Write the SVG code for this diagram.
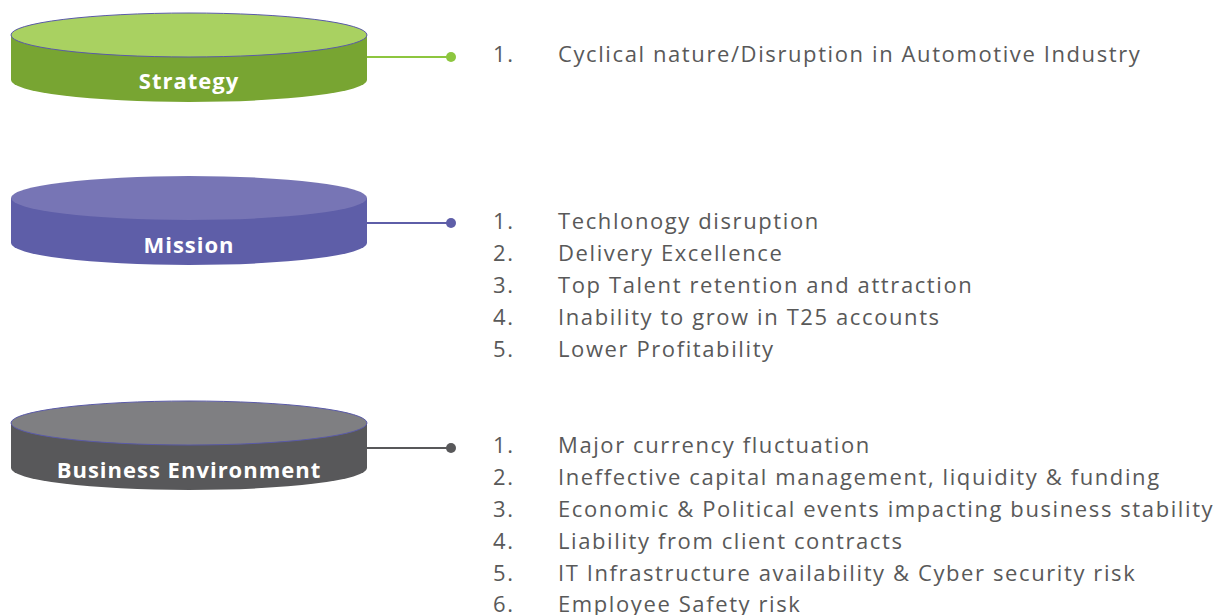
<svg xmlns="http://www.w3.org/2000/svg" width="1222" height="615" viewBox="0 0 1222 615">
<style>
.lbl{font-family:"Open Sans","Noto Sans",sans-serif;font-weight:bold;font-size:22px;letter-spacing:1px;fill:#ffffff;text-anchor:middle}
.it{font-family:"Open Sans","Noto Sans",sans-serif;font-size:22px;letter-spacing:1.6px;fill:#595959}
.rim{stroke:#5a5aa8;stroke-width:1}
</style>
<rect width="1222" height="615" fill="#ffffff"/>
<g id="connectors">
<line x1="367" y1="57" x2="451" y2="57" stroke="#8dc63f" stroke-width="2"/>
<circle cx="451" cy="57" r="5" fill="#8dc63f"/>
<line x1="367" y1="223" x2="451" y2="223" stroke="#5e5ea8" stroke-width="2"/>
<circle cx="451" cy="223" r="5" fill="#5e5ea8"/>
<line x1="367" y1="448" x2="451" y2="448" stroke="#58585a" stroke-width="2"/>
<circle cx="451" cy="448" r="5" fill="#58585a"/>
</g>
<g id="strategy">
<path d="M11,35 L11,80 A178,22 0 0 0 367,80 L367,35 Z" fill="#78a532"/>
<ellipse cx="189" cy="35" rx="178" ry="22" fill="#a9d161" class="rim"/>
<text x="189" y="89" class="lbl">Strategy</text>
</g>
<g id="mission">
<path d="M11,198 L11,243 A178,22 0 0 0 367,243 L367,198 Z" fill="#5e5ea8"/>
<ellipse cx="189" cy="198" rx="178" ry="22" fill="#7775b5"/>
<text x="189" y="253" class="lbl">Mission</text>
</g>
<g id="business">
<path d="M11,423 L11,468 A178,22 0 0 0 367,468 L367,423 Z" fill="#58585a"/>
<ellipse cx="189" cy="423" rx="178" ry="22" fill="#7f7f82" class="rim"/>
<text x="189" y="478" class="lbl">Business Environment</text>
</g>
<g id="strategy-list">
<text x="493" y="62" class="it">1.</text><text x="558" y="62" class="it">Cyclical nature/Disruption in Automotive Industry</text>
</g>
<g id="mission-list">
<text x="493" y="229" class="it">1.</text><text x="558" y="229" class="it">Techlonogy disruption</text>
<text x="493" y="261" class="it">2.</text><text x="558" y="261" class="it">Delivery Excellence</text>
<text x="493" y="293" class="it">3.</text><text x="558" y="293" class="it">Top Talent retention and attraction</text>
<text x="493" y="325" class="it">4.</text><text x="558" y="325" class="it">Inability to grow in T25 accounts</text>
<text x="493" y="357" class="it">5.</text><text x="558" y="357" class="it">Lower Profitability</text>
</g>
<g id="business-list">
<text x="493" y="453" class="it">1.</text><text x="558" y="453" class="it">Major currency fluctuation</text>
<text x="493" y="485" class="it">2.</text><text x="558" y="485" class="it">Ineffective capital management, liquidity &amp; funding</text>
<text x="493" y="517" class="it">3.</text><text x="558" y="517" class="it">Economic &amp; Political events impacting business stability</text>
<text x="493" y="549" class="it">4.</text><text x="558" y="549" class="it">Liability from client contracts</text>
<text x="493" y="581" class="it">5.</text><text x="558" y="581" class="it">IT Infrastructure availability &amp; Cyber security risk</text>
<text x="493" y="612" class="it">6.</text><text x="558" y="612" class="it">Employee Safety risk</text>
</g>
</svg>
